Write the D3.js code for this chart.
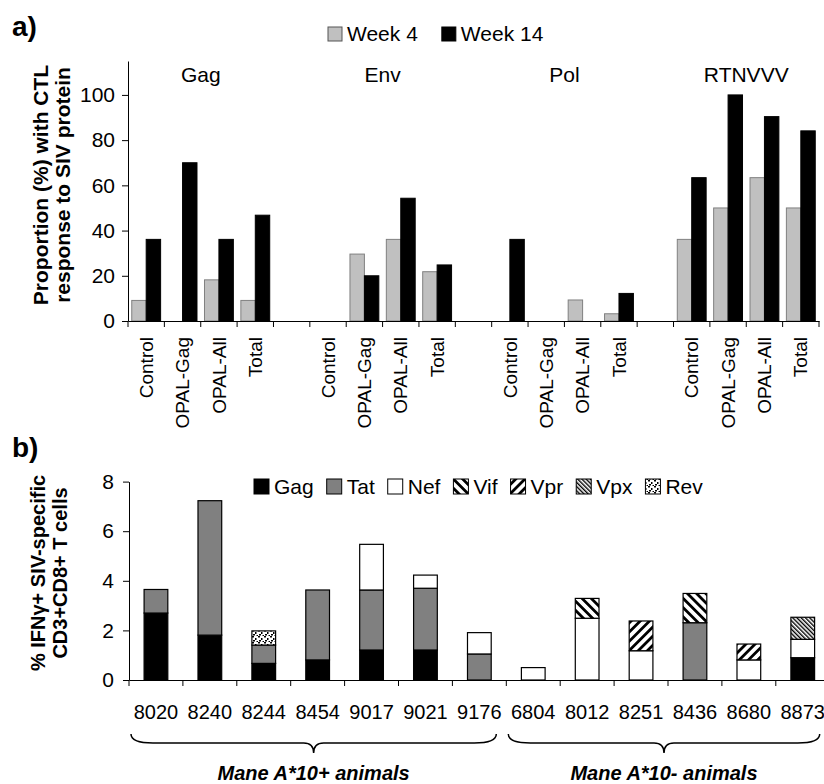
<!DOCTYPE html>
<html>
<head>
<meta charset="utf-8">
<script src="https://cdn.jsdelivr.net/npm/d3@7"></script>
<style>
body { margin: 0; background: #fff; }
svg { display: block; font-family: "Liberation Sans", Arial, sans-serif; }
.axis path, .axis line { stroke: #000; }
.axis text { fill: #000; }
</style>
</head>
<body>
<div id="chart"></div>
<script>
// ---- panel a: proportion of animals with CTL response ----
var groupsA = ["Gag", "Env", "Pol", "RTNVVV"];
var vaccineA = ["Control", "OPAL-Gag", "OPAL-All", "Total"];
var week4 = [[9.1, 0, 18.2, 9.1], [0, 29.6, 36.1, 21.8], [0, 0, 9.3, 3.2], [36.1, 50, 63.4, 50]];
var week14 = [[36.1, 70, 36.1, 46.8], [0, 20, 54.3, 24.8], [36.1, 0, 0, 12.2], [63.4, 100, 90.4, 84.1]];
var ticksA = [0, 20, 40, 60, 80, 100];
var seriesA = ["Week 4", "Week 14"];

// ---- panel b: % IFNg+ CD8 T cells per animal, stacked by protein ----
var animals = ["8020", "8240", "8244", "8454", "9017", "9021", "9176", "6804", "8012", "8251", "8436", "8680", "8873"];
var proteins = ["Gag", "Tat", "Nef", "Vif", "Vpr", "Vpx", "Rev"];
var gag = [2.7, 1.81, 0.67, 0.81, 1.21, 1.21, 0, 0, 0, 0, 0, 0, 0.9];
var tat = [0.95, 5.42, 0.74, 2.82, 2.42, 2.49, 1.05, 0, 0, 0, 2.31, 0, 0];
var nef = [0, 0, 0, 0, 1.84, 0.53, 0.86, 0.5, 2.49, 1.18, 0, 0.81, 0.74];
var vif = [0, 0, 0, 0, 0, 0, 0, 0, 0.8, 0, 1.18, 0, 0];
var vpr = [0, 0, 0, 0, 0, 0, 0, 0, 0, 1.2, 0, 0.64, 0];
var vpx = [0, 0, 0, 0, 0, 0, 0, 0, 0, 0, 0, 0, 0.89];
var rev = [0, 0, 0.57, 0, 0, 0, 0, 0, 0, 0, 0, 0, 0];
var ticksB = [0, 2, 4, 6, 8];
var cohortNames = ["Mane A*10+ animals", "Mane A*10- animals"];
var cohortFirst = ["8020", "6804"];
var cohortLast = ["9176", "8873"];

var width = 824, height = 784;
var svg = d3.select("#chart").append("svg")
    .attr("width", width)
    .attr("height", height);

var defs = svg.append("defs");
function stripes(id, size, thick, angle) {
    var p = defs.append("pattern")
        .attr("id", id)
        .attr("patternUnits", "userSpaceOnUse")
        .attr("width", size).attr("height", size)
        .attr("patternTransform", "rotate(" + angle + ")");
    p.append("rect").attr("width", size).attr("height", size).attr("fill", "#fff");
    p.append("rect").attr("width", thick).attr("height", size).attr("fill", "#000");
}
stripes("pVif", 6.5, 2.8, -45);
stripes("pVpr", 6.5, 2.8, 45);
stripes("pVpx", 3, 1.4, -45);
var pr = defs.append("pattern")
    .attr("id", "pRev")
    .attr("patternUnits", "userSpaceOnUse")
    .attr("width", 6).attr("height", 6);
pr.append("rect").attr("width", 6).attr("height", 6).attr("fill", "#fff");
pr.append("rect").attr("x", 0).attr("y", 0).attr("width", 2).attr("height", 1.5).attr("fill", "#000");
pr.append("rect").attr("x", 3).attr("y", 2).attr("width", 1.5).attr("height", 2).attr("fill", "#000");
pr.append("rect").attr("x", 1).attr("y", 4).attr("width", 2).attr("height", 1.5).attr("fill", "#000");
pr.append("rect").attr("x", 4.5).attr("y", 5).attr("width", 1.5).attr("height", 1).attr("fill", "#000");

var fills = {Gag: "#000", Tat: "#808080", Nef: "#fff", Vif: "url(#pVif)", Vpr: "url(#pVpr)", Vpx: "url(#pVpx)", Rev: "url(#pRev)"};

// panel labels
svg.append("text").attr("x", 12).attr("y", 36)
    .style("font-size", "28px").style("font-weight", "bold").text("a)");
svg.append("text").attr("x", 12).attr("y", 457)
    .style("font-size", "28px").style("font-weight", "bold").text("b)");

// ================= panel a =================
var slots = [];
groupsA.forEach(function(g, gi) {
    if (gi > 0) slots.push("gap" + gi);
    vaccineA.forEach(function(v) { slots.push(g + "|" + v); });
});

var xA = d3.scaleBand().domain(slots).range([128, 819]);
var xInner = d3.scaleBand().domain(seriesA).range([0, xA.bandwidth()]).paddingOuter(0.26);
var yA = d3.scaleLinear().domain([0, 115]).range([321, 61]);

var gA = svg.append("g");

var barsA = [];
groupsA.forEach(function(g, gi) {
    vaccineA.forEach(function(v, vi) {
        barsA.push({slot: g + "|" + v, series: "Week 4", value: week4[gi][vi]});
        barsA.push({slot: g + "|" + v, series: "Week 14", value: week14[gi][vi]});
    });
});

gA.selectAll("rect.bar")
    .data(barsA.filter(function(d) { return d.value > 0; }))
    .enter().append("rect")
    .attr("class", "bar")
    .attr("x", function(d) { return xA(d.slot) + xInner(d.series); })
    .attr("width", xInner.bandwidth())
    .attr("y", function(d) { return yA(d.value); })
    .attr("height", function(d) { return yA(0) - yA(d.value); })
    .attr("fill", function(d) { return d.series == "Week 4" ? "#c0c0c0" : "#000"; })
    .attr("stroke", function(d) { return d.series == "Week 4" ? "#808080" : "#000"; })
    .attr("stroke-width", 1);

// x axis with labels on categories, ticks between slots
var xAxisA = gA.append("g")
    .attr("class", "axis")
    .attr("transform", "translate(0," + yA(0) + ")")
    .call(d3.axisBottom(xA).tickSize(0).tickSizeOuter(0)
        .tickFormat(function(s) { return s.indexOf("gap") == 0 ? "" : s.split("|")[1]; }));
xAxisA.selectAll("text")
    .attr("transform", "rotate(-90)")
    .attr("text-anchor", "end")
    .attr("x", -16)
    .attr("y", 0)
    .attr("dy", "0.35em")
    .style("font-size", "19px");
xAxisA.selectAll("line.sep")
    .data(slots.concat(["end"]))
    .enter().append("line")
    .attr("class", "sep")
    .attr("x1", function(s) { return s == "end" ? xA.range()[1] : xA(s); })
    .attr("x2", function(s) { return s == "end" ? xA.range()[1] : xA(s); })
    .attr("y1", 0).attr("y2", 6);

var yAxisA = gA.append("g")
    .attr("class", "axis")
    .attr("transform", "translate(" + xA.range()[0] + ",0)")
    .call(d3.axisLeft(yA).tickValues(ticksA).tickSize(6).tickPadding(7).tickSizeOuter(0));
yAxisA.selectAll("text").style("font-size", "21px");

// group titles
gA.selectAll("text.group")
    .data(groupsA)
    .enter().append("text")
    .attr("class", "group")
    .attr("x", function(g) { return (xA(g + "|" + vaccineA[0]) + xA(g + "|" + vaccineA[3]) + xA.bandwidth()) / 2; })
    .attr("y", 82)
    .attr("text-anchor", "middle")
    .style("font-size", "21px")
    .text(function(g) { return g; });

// y title
var titleA = gA.append("text")
    .attr("transform", "translate(48,185) rotate(-90)")
    .attr("text-anchor", "middle")
    .style("font-size", "21px").style("font-weight", "bold");
titleA.append("tspan").attr("x", 0).attr("y", 0).text("Proportion (%) with CTL");
titleA.append("tspan").attr("x", 0).attr("y", 22).text("response to SIV protein");

// legend a
var legA = gA.append("g");
var lx = 328;
seriesA.forEach(function(s) {
    legA.append("rect").attr("x", lx).attr("y", 27).attr("width", 14).attr("height", 14)
        .attr("fill", s == "Week 4" ? "#c0c0c0" : "#000")
        .attr("stroke", s == "Week 4" ? "#555" : "#000");
    var t = legA.append("text").attr("x", lx + 19).attr("y", 41)
        .style("font-size", "21px").text(s);
    lx += 19 + t.node().getComputedTextLength() + 24;
});

// ================= panel b =================
var xB = d3.scaleBand().domain(animals).range([129, 829.7]);
var yB = d3.scaleLinear().domain([0, 8]).range([680, 481.6]);
var barW = xB.bandwidth() * 0.44;

var rows = animals.map(function(a, i) {
    return {animal: a, Gag: gag[i], Tat: tat[i], Nef: nef[i], Vif: vif[i], Vpr: vpr[i], Vpx: vpx[i], Rev: rev[i]};
});
var stacked = d3.stack().keys(proteins)(rows);

var gB = svg.append("g");
gB.selectAll("g.layer")
    .data(stacked)
    .enter().append("g")
    .attr("class", "layer")
    .attr("fill", function(d) { return fills[d.key]; })
    .selectAll("rect")
    .data(function(d) { return d.filter(function(p) { return p[1] - p[0] > 0; }); })
    .enter().append("rect")
    .attr("x", function(d) { return xB(d.data.animal) + (xB.bandwidth() - barW) / 2; })
    .attr("width", barW)
    .attr("y", function(d) { return yB(d[1]); })
    .attr("height", function(d) { return yB(d[0]) - yB(d[1]); })
    .attr("stroke", "#000")
    .attr("stroke-width", 1.2);

var xAxisB = gB.append("g")
    .attr("class", "axis")
    .attr("transform", "translate(0," + yB(0) + ")")
    .call(d3.axisBottom(xB).tickSize(0).tickSizeOuter(0).tickPadding(25));
xAxisB.selectAll("text").style("font-size", "20px");
xAxisB.selectAll("line.sep")
    .data(animals.concat(["end"]))
    .enter().append("line")
    .attr("class", "sep")
    .attr("x1", function(a) { return a == "end" ? xB.range()[1] : xB(a); })
    .attr("x2", function(a) { return a == "end" ? xB.range()[1] : xB(a); })
    .attr("y1", 0).attr("y2", 6);

var yAxisB = gB.append("g")
    .attr("class", "axis")
    .attr("transform", "translate(" + xB.range()[0] + ",0)")
    .call(d3.axisLeft(yB).tickValues(ticksB).tickSize(6).tickPadding(9).tickSizeOuter(0));
yAxisB.selectAll("text").style("font-size", "21px");

var titleB = gB.append("text")
    .attr("transform", "translate(45,573) rotate(-90)")
    .attr("text-anchor", "middle")
    .style("font-size", "20px").style("font-weight", "bold");
titleB.append("tspan").attr("x", 0).attr("y", 0).text("% IFN\u03b3+ SIV-specific");
titleB.append("tspan").attr("x", 0).attr("y", 22).text("CD3+CD8+ T cells");

// legend b
var legB = gB.append("g");
var bx = 254;
proteins.forEach(function(p) {
    legB.append("rect").attr("x", bx).attr("y", 479).attr("width", 15).attr("height", 15)
        .attr("fill", fills[p]).attr("stroke", "#000").attr("stroke-width", 1);
    var t = legB.append("text").attr("x", bx + 20).attr("y", 494)
        .style("font-size", "21px").text(p);
    bx += 20 + t.node().getComputedTextLength() + 13;
});

// cohort braces
function bracePath(x0, x1, y0) {
    var xm = (x0 + x1) / 2, y1 = y0 + 9, y2 = y0 + 19, q = 22, c = 10;
    return "M" + x0 + "," + y0 +
        "Q" + x0 + "," + y1 + " " + (x0 + q) + "," + y1 +
        "L" + (xm - c) + "," + y1 +
        "Q" + xm + "," + y1 + " " + xm + "," + y2 +
        "Q" + xm + "," + y1 + " " + (xm + c) + "," + y1 +
        "L" + (x1 - q) + "," + y1 +
        "Q" + x1 + "," + y1 + " " + x1 + "," + y0;
}
cohortNames.forEach(function(name, i) {
    var x0 = xB(cohortFirst[i]) + 2;
    var x1 = xB(cohortLast[i]) + xB.bandwidth() - 10;
    gB.append("path")
        .attr("d", bracePath(x0, x1, 734))
        .attr("fill", "none")
        .attr("stroke", "#000")
        .attr("stroke-width", 1.5);
    gB.append("text")
        .attr("x", (x0 + x1) / 2)
        .attr("y", 780)
        .attr("text-anchor", "middle")
        .style("font-size", "20px").style("font-weight", "bold").style("font-style", "italic")
        .text(name);
});
</script>
</body>
</html>
